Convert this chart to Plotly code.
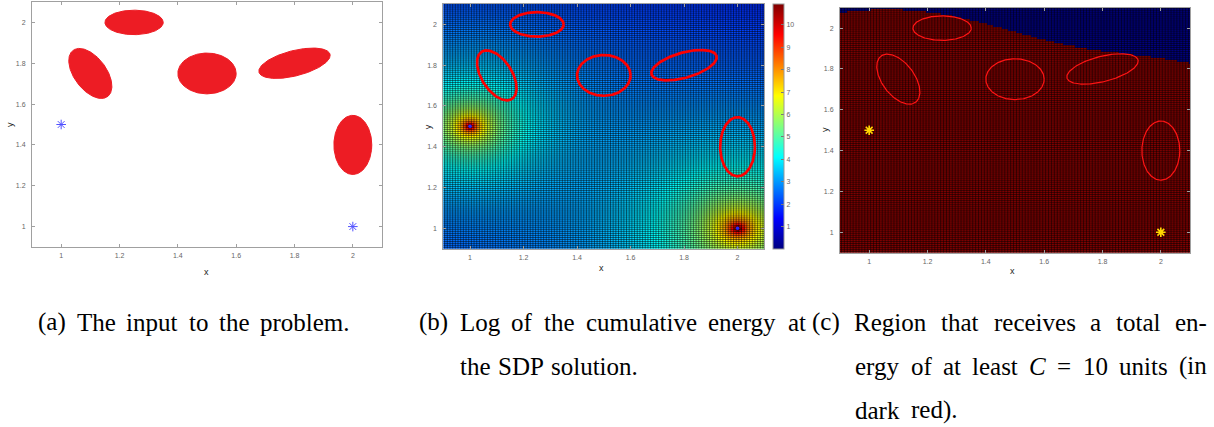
import re
import numpy as np
import plotly.graph_objects as go

W, H = 1214, 427

# ---------------- data ----------------
source_x = [1.0, 2.0]
source_y = [1.5, 1.0]
source_power = [2.59, 5.59]        # strengths fitted to the C=10 boundary
energy_threshold = 10.0            # C
grid_min, grid_max, grid_step = 0.9, 2.1, 0.01

ellipse_cx = [1.25, 1.10, 1.50, 1.80, 2.00]
ellipse_cy = [2.00, 1.75, 1.75, 1.80, 1.40]
ellipse_a = [0.10, 0.13, 0.10, 0.13, 0.065]
ellipse_b = [0.06, 0.06, 0.10, 0.06, 0.145]
ellipse_angle = [0.0, -68.0, 0.0, 22.5, 0.0]

axis_ticks = [1.0, 1.2, 1.4, 1.6, 1.8, 2.0]
axis_ticktext = ["1", "1.2", "1.4", "1.6", "1.8", "2"]
cbar_ticks = [1, 2, 3, 4, 5, 6, 7, 8, 9, 10]

# caption lines: (words, left px, right px, centre y px)
caption_lines = [
    (["(a)", "The", "input", "to", "the", "problem."], 36, 348, 322),
    (["(b)", "Log", "of", "the", "cumulative", "energy", "at"], 417, 804, 322),
    (["the", "SDP", "solution."], 458, 634, 366),
    (["(c)", "Region", "that", "receives", "a", "total", "en-"], 810, 1205, 322),
    (["ergy", "of", "at", "least", "<i>C</i>", "=", "10", "units", "(in"], 853, 1205, 366),
    (["dark", "red)."], 853, 955, 410),
]
CAP_FONT = 25

# approximate Liberation Serif advance widths (1/1000 em)
_tw = {" ": 250, "(": 333, ")": 333, ".": 250, "-": 333, "=": 564, "0": 500, "1": 500,
       "a": 444, "b": 500, "c": 444, "d": 500, "e": 444, "f": 333, "g": 500, "h": 500, "i": 278,
       "k": 500, "l": 278, "m": 778, "n": 500, "o": 500, "p": 500, "r": 333, "s": 389, "t": 278,
       "u": 500, "v": 500, "y": 500, "C": 667, "D": 722, "L": 611, "P": 556, "R": 667, "S": 556,
       "T": 611}


def text_w(word, size):
    plain = re.sub("<[^>]+>", "", word)
    return sum(_tw.get(ch, 500) for ch in plain) * size / 1000.0


# ---------------- derived field ----------------
g = np.round(np.arange(grid_min, grid_max + grid_step / 2, grid_step), 4)
GX, GY = np.meshgrid(g, g)
E = np.zeros_like(GX)
at_source = np.zeros_like(GX, dtype=bool)
for sx, sy, p in zip(source_x, source_y, source_power):
    r2 = (GX - sx) ** 2 + (GY - sy) ** 2
    hit = r2 < 1e-12
    at_source |= hit
    E += np.where(hit, 0.0, p / np.where(hit, 1.0, r2))
logE = np.where(at_source, 0.0, np.log(np.where(E > 0, E, 1.0)))
region = np.where(at_source | (E >= energy_threshold), 1, 0)
edges = (g[:-1] + g[1:]) / 2


def ellipse_xy(cx, cy, a, b, ang):
    t = np.linspace(0, 2 * np.pi, 241)
    th = np.deg2rad(ang)
    x = cx + a * np.cos(t) * np.cos(th) - b * np.sin(t) * np.sin(th)
    y = cy + a * np.cos(t) * np.sin(th) + b * np.sin(t) * np.cos(th)
    return x, y


def mesh_xy():
    xs, ys = [], []
    for e in edges:
        xs += [e, e, None]
        ys += [grid_min, grid_max, None]
        xs += [grid_min, grid_max, None]
        ys += [e, e, None]
    return xs, ys


def px_dom_x(x0, x1):
    return [x0 / W, x1 / W]


def px_dom_y(y0, y1):
    return [1 - y1 / H, 1 - y0 / H]


jet = [[0.0, "rgb(0,0,128)"], [0.125, "rgb(0,0,255)"], [0.375, "rgb(0,255,255)"],
       [0.625, "rgb(255,255,0)"], [0.875, "rgb(255,0,0)"], [1.0, "rgb(128,0,0)"]]

fig = go.Figure()

# ---- panel (a) ----
for cx, cy, a, b, ang in zip(ellipse_cx, ellipse_cy, ellipse_a, ellipse_b, ellipse_angle):
    ex, ey = ellipse_xy(cx, cy, a, b, ang)
    fig.add_trace(go.Scatter(x=ex, y=ey, mode="lines", fill="toself",
                             fillcolor="rgb(237,28,36)", line=dict(color="rgb(237,28,36)", width=1),
                             xaxis="x", yaxis="y", hoverinfo="skip"))
fig.add_trace(go.Scatter(x=source_x, y=source_y, mode="markers",
                         marker=dict(symbol="asterisk-open", size=8, color="rgb(80,80,255)",
                                     line=dict(color="rgb(80,80,255)", width=1)),
                         xaxis="x", yaxis="y", hoverinfo="skip"))

mx, my = mesh_xy()
mesh_line = dict(color="rgba(0,0,0,0.62)", width=0.8)

# ---- panel (b) ----
fig.add_trace(go.Heatmap(x=g, y=g, z=logE, colorscale=jet,
                         zmin=float(logE.min()), zmax=float(logE.max()),
                         xaxis="x2", yaxis="y2", hoverinfo="skip",
                         colorbar=dict(x=773.3 / W, xanchor="left", xpad=0, ypad=0,
                                       y=1 - 4 / H, yanchor="top", len=244.7 / H, lenmode="fraction",
                                       thickness=11, thicknessmode="pixels",
                                       outlinecolor="#999", outlinewidth=1,
                                       tickvals=cbar_ticks, ticks="inside", ticklen=3,
                                       tickcolor="#777", tickfont=dict(size=7, color="#666",
                                                                       family="Liberation Sans"))))
fig.add_trace(go.Scatter(x=mx, y=my, mode="lines", line=mesh_line,
                         xaxis="x2", yaxis="y2", hoverinfo="skip"))
for cx, cy, a, b, ang in zip(ellipse_cx, ellipse_cy, ellipse_a, ellipse_b, ellipse_angle):
    ex, ey = ellipse_xy(cx, cy, a, b, ang)
    fig.add_trace(go.Scatter(x=ex, y=ey, mode="lines", line=dict(color="rgb(255,0,0)", width=2.7),
                             xaxis="x2", yaxis="y2", hoverinfo="skip"))
fig.add_trace(go.Scatter(x=source_x, y=source_y, mode="markers",
                         marker=dict(symbol="circle", size=3.5, color="rgb(40,40,255)"),
                         xaxis="x2", yaxis="y2", hoverinfo="skip"))

# ---- panel (c) ----
fig.add_trace(go.Heatmap(x=g, y=g, z=region, zmin=0, zmax=1,
                         colorscale=[[0, "rgb(0,0,128)"], [1, "rgb(128,0,0)"]],
                         showscale=False, xaxis="x3", yaxis="y3", hoverinfo="skip"))
fig.add_trace(go.Scatter(x=mx, y=my, mode="lines", line=mesh_line,
                         xaxis="x3", yaxis="y3", hoverinfo="skip"))
for cx, cy, a, b, ang in zip(ellipse_cx, ellipse_cy, ellipse_a, ellipse_b, ellipse_angle):
    ex, ey = ellipse_xy(cx, cy, a, b, ang)
    fig.add_trace(go.Scatter(x=ex, y=ey, mode="lines", line=dict(color="rgb(255,20,20)", width=1.2),
                             xaxis="x3", yaxis="y3", hoverinfo="skip"))
fig.add_trace(go.Scatter(x=source_x, y=source_y, mode="markers",
                         marker=dict(symbol="asterisk-open", size=8, color="rgb(255,215,0)",
                                     line=dict(color="rgb(255,215,0)", width=1.6)),
                         xaxis="x3", yaxis="y3", hoverinfo="skip"))

axis_common = dict(range=[grid_min, grid_max], tickvals=axis_ticks, ticktext=axis_ticktext,
                   showgrid=False, zeroline=False, showline=True, mirror="ticks",
                   linecolor="#a0a0a0", linewidth=1, ticks="inside", ticklen=3, tickcolor="#a0a0a0",
                   tickfont=dict(size=7, color="#666", family="Liberation Sans"),
                   layer="above traces", fixedrange=True)

panels = {
    "": ((32, 382), (2, 247)),
    "2": ((443.3, 764.3), (4, 248.7)),
    "3": ((840, 1190), (7.7, 252.7)),
}
layout = dict(width=W, height=H, margin=dict(l=0, r=0, t=0, b=0),
              paper_bgcolor="white", plot_bgcolor="white", showlegend=False)
for k, ((x0, x1), (y0, y1)) in panels.items():
    layout["xaxis" + k] = dict(axis_common, domain=px_dom_x(x0, x1), anchor="y" + k,
                               ticklabelstandoff=2)
    layout["yaxis" + k] = dict(axis_common, domain=px_dom_y(y0, y1), anchor="x" + k,
                               ticklabelstandoff=4)
fig.update_layout(**layout)

# axis titles
titles = [("x", 206.7, 272, 0), ("y", 10, 125, -90),
          ("x", 601.7, 268, 0), ("y", 428.3, 127, -90),
          ("x", 1012.7, 271, 0), ("y", 825, 130, -90)]
for txt, px, py, rot in titles:
    fig.add_annotation(text=txt, x=px / W, y=1 - py / H, xref="paper", yref="paper",
                       showarrow=False, xanchor="center", yanchor="middle", textangle=rot,
                       font=dict(size=9, color="#222", family="Liberation Sans"))

# captions: justified word by word between the measured line ends
min_gap = 0.3 * CAP_FONT
for words, left, right, py in caption_lines:
    widths = [text_w(w, CAP_FONT) for w in words]
    n_gaps = len(words) - 1
    free = (right - left) - sum(widths)
    unit = max(free / n_gaps, min_gap) if n_gaps else 0
    xpos = left
    for w, wd in zip(words, widths):
        fig.add_annotation(text=w, x=xpos / W, y=1 - py / H, xref="paper", yref="paper",
                           showarrow=False, xanchor="left", yanchor="middle",
                           font=dict(size=CAP_FONT, color="black", family="Liberation Serif"))
        xpos += wd + unit

fig.write_html("out.html")
